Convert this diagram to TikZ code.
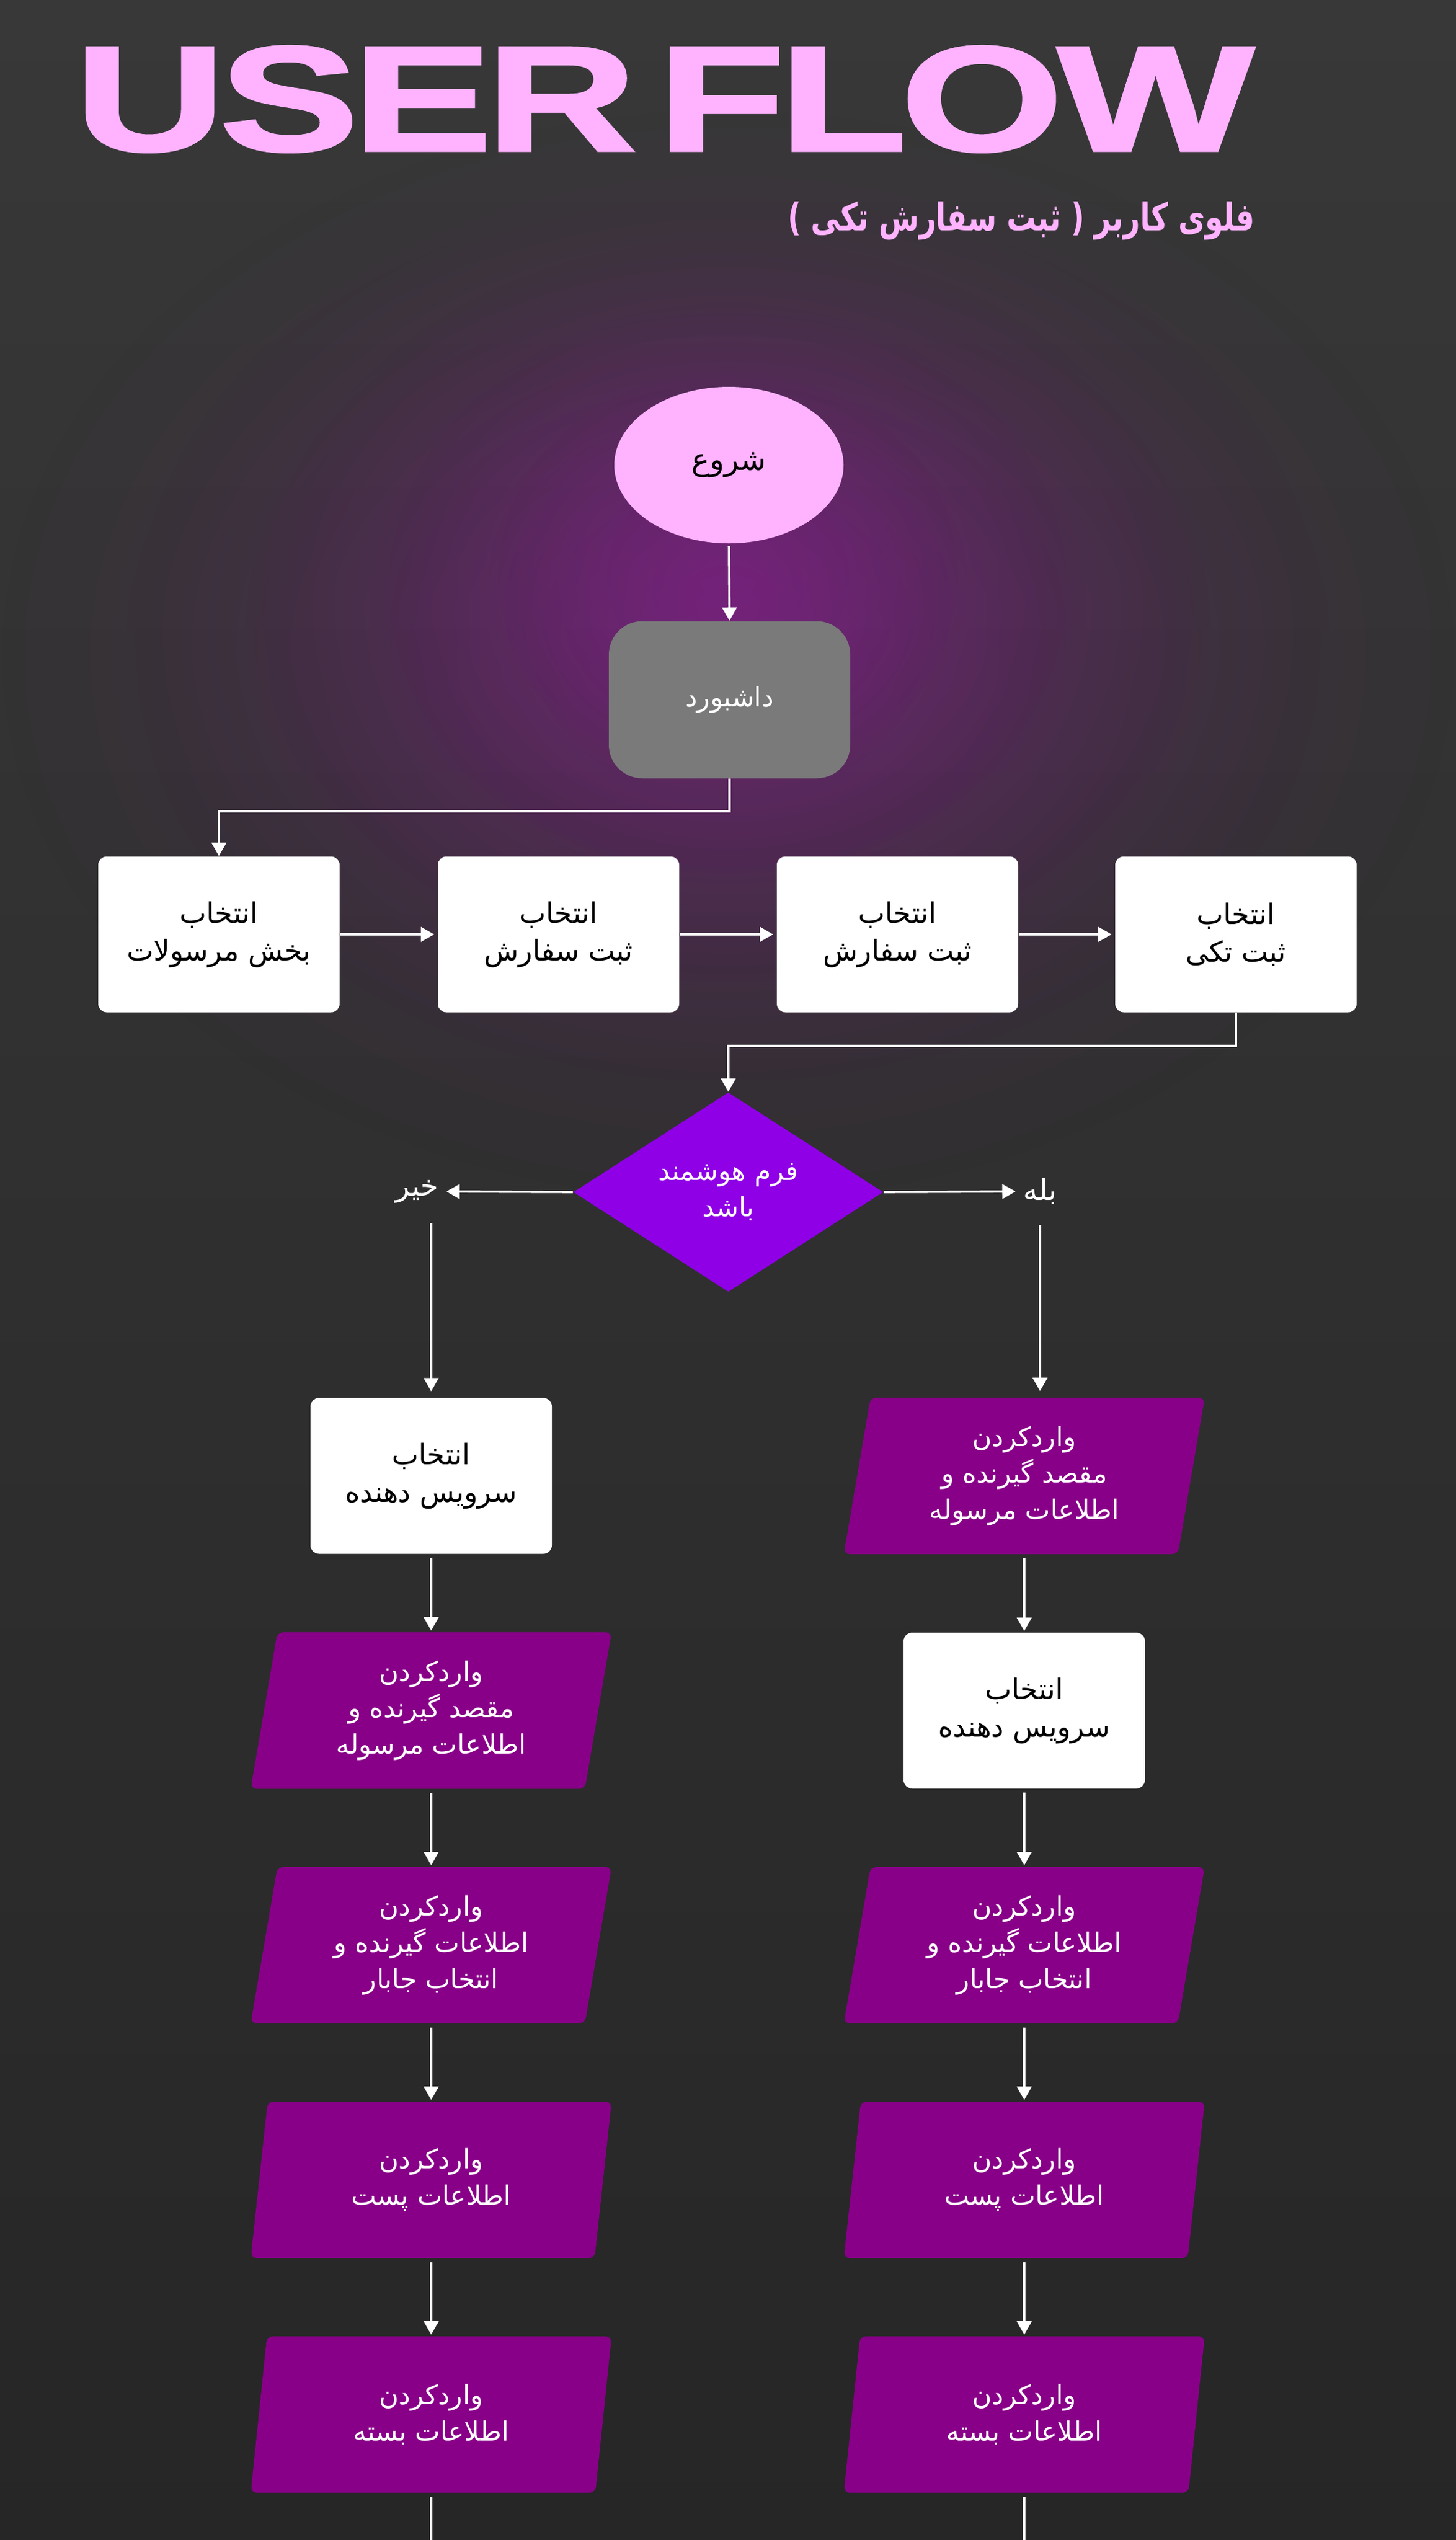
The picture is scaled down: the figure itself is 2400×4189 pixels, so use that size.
\documentclass[tikz,border=0pt]{standalone}
\usepackage{fontspec}
\usetikzlibrary{shapes.geometric,arrows.meta,fadings,calc}
\newfontfamily\arfont[Script=Arabic]{DejaVu Sans}
\newfontfamily\titlefont[LetterSpace=-3,FakeBold=1.5]{Liberation Sans}
\TeXXeTstate=1
\newcommand{\rl}[1]{\beginR #1\endR}
\definecolor{pinkc}{HTML}{FFB3FF}
\definecolor{grayc}{HTML}{7A7A7A}
\definecolor{diac}{HTML}{8F00E6}
\definecolor{parac}{HTML}{880088}
\definecolor{bgtop}{HTML}{383838}
\definecolor{bgbot}{HTML}{262626}
\definecolor{glowc}{HTML}{8A1E92}
\tikzfading[name=glowfade, inner color=transparent!0, outer color=transparent!100]
\begin{document}
\begin{tikzpicture}[x=0.25pt,y=-0.25pt,
  wbox/.style={rectangle, rounded corners=3.5pt, fill=white, text=black,
    minimum width=99.5pt, minimum height=64.25pt, inner sep=0pt, align=center,
    font=\arfont\fontsize{11.7pt}{15.5pt}\selectfont},
  pbox/.style={trapezium, trapezium left angle=75, trapezium right angle=105,
    trapezium stretches body=true, rounded corners=2.5pt, fill=parac, text=white,
    minimum width=148.75pt, minimum height=64.5pt, inner sep=0pt, align=center,
    font=\arfont\fontsize{11pt}{15pt}\selectfont},
  lbl/.style={text=white, inner sep=3pt, font=\arfont\fontsize{12pt}{14pt}\selectfont},
  arr/.style={draw=white, line width=0.9pt, -{Triangle[width=6pt,length=5.5pt]}},
  ln/.style={draw=white, line width=0.9pt},
  glow/.style={glowc, fill opacity=0.26, path fading=glowfade, fit fading=true}
]
\useasboundingbox (0,0) rectangle (2400,4189);
% background
\shade[top color=bgtop, bottom color=bgbot] (-20,-20) rectangle (2420,4209);
\fill[glow] (1200,1080) ellipse [x radius=300pt, y radius=225pt];
\fill[glow] (1200,1040) ellipse [x radius=245pt, y radius=188pt];
\fill[glow] (1200,1000) ellipse [x radius=192pt, y radius=152pt];
\fill[glow] (1200,970) ellipse [x radius=140pt, y radius=118pt];
\fill[glow] (1200,950) ellipse [x radius=95pt, y radius=85pt];

% title
\node[anchor=north west, inner sep=0pt, text=pinkc] (title) at (122,75)
  {\resizebox{486.25pt}{43.25pt}{\titlefont\bfseries USER\hspace{0.1em}FLOW}};
\node[anchor=east, inner sep=0pt, text=pinkc] (sub) at (2070,364)
  {\resizebox{192.5pt}{12pt}{\arfont\bfseries\rl{فلوی کاربر ( ثبت سفارش تکی )}}};

% top nodes
\node[ellipse, fill=pinkc, text=black, minimum width=94.5pt, minimum height=64.5pt, inner sep=0pt,
  font=\arfont\fontsize{12.5pt}{15pt}\selectfont] (start) at (1202,767) {\rl{شروع}};
\node[rectangle, rounded corners=13.75pt, fill=grayc, text=white, minimum width=99.5pt,
  minimum height=64.75pt, inner sep=0pt, font=\arfont\fontsize{11pt}{14pt}\selectfont] (dash) at (1203,1154) {\rl{داشبورد}};

\node[wbox] (b1) at (361,1541) {\rl{انتخاب}\\\rl{بخش مرسولات}};
\node[wbox] (b2) at (921,1541) {\rl{انتخاب}\\\rl{ثبت سفارش}};
\node[wbox] (b3) at (1480,1541) {\rl{انتخاب}\\\rl{ثبت سفارش}};
\node[wbox] (b4) at (2038,1541) {\rl{انتخاب}\\\rl{ثبت تکی}};

\node[diamond, fill=diac, text=white, minimum width=127.75pt, minimum height=82.25pt, inner sep=0pt,
  align=center, font=\arfont\fontsize{11pt}{15pt}\selectfont] (dia) at (1201,1966) {\rl{فرم هوشمند}\\\rl{باشد}};
\node[lbl] (no) at (688,1965) {\rl{خیر}};
\node[lbl] (yes) at (1715,1965) {\rl{بله}};

% left column
\node[wbox] (L1) at (711,2434) {\rl{انتخاب}\\\rl{سرویس دهنده}};
\node[pbox] (L2) at (711,2821) {\rl{واردکردن}\\\rl{مقصد گیرنده و}\\\rl{اطلاعات مرسوله}};
\node[pbox] (L3) at (711,3208) {\rl{واردکردن}\\\rl{اطلاعات گیرنده و}\\\rl{انتخاب جابار}};
\node[pbox] (L4) at (711,3595) {\rl{واردکردن}\\\rl{اطلاعات پست}};
\node[pbox] (L5) at (711,3982) {\rl{واردکردن}\\\rl{اطلاعات بسته}};
% right column
\node[pbox] (R1) at (1689,2434) {\rl{واردکردن}\\\rl{مقصد گیرنده و}\\\rl{اطلاعات مرسوله}};
\node[wbox] (R2) at (1689,2821) {\rl{انتخاب}\\\rl{سرویس دهنده}};
\node[pbox] (R3) at (1689,3208) {\rl{واردکردن}\\\rl{اطلاعات گیرنده و}\\\rl{انتخاب جابار}};
\node[pbox] (R4) at (1689,3595) {\rl{واردکردن}\\\rl{اطلاعات پست}};
\node[pbox] (R5) at (1689,3982) {\rl{واردکردن}\\\rl{اطلاعات بسته}};

% junctions
\coordinate (j1) at (1203,1338);
\coordinate (j2) at (2038,1725);
\coordinate (Lend) at (711,4200);
\coordinate (Rend) at (1689,4200);

% connectors
\draw[arr, shorten <=0.8pt] (start.south) -- (dash.north);
\draw[arr] (dash.south) -- (j1) -| (b1.north);
\draw[arr, shorten >=1.3pt] (b1.east) -- (b2.west);
\draw[arr, shorten >=1.3pt] (b2.east) -- (b3.west);
\draw[arr, shorten >=1.3pt] (b3.east) -- (b4.west);
\draw[arr] (b4.south) -- (j2) -| (dia.north);
\draw[arr] (dia.west) -- (no.east);
\draw[arr] (dia.east) -- (yes.west);
\draw[arr, shorten <=5pt, shorten >=2.5pt] (L1.north |- no.south) -- (L1.north);
\draw[arr, shorten <=5pt, shorten >=2.5pt] (yes.south) -- (yes.south |- R1.north);
\foreach \a/\b in {L1/L2,L2/L3,L3/L4,L4/L5,R1/R2,R2/R3,R3/R4,R4/R5}
  \draw[arr, shorten <=1.5pt, shorten >=0.5pt] (\a.south) -- (\b.north);
\draw[ln, shorten <=1.5pt] (L5.south) -- (Lend);
\draw[ln, shorten <=1.5pt] (R5.south) -- (Rend);
\end{tikzpicture}
\end{document}
